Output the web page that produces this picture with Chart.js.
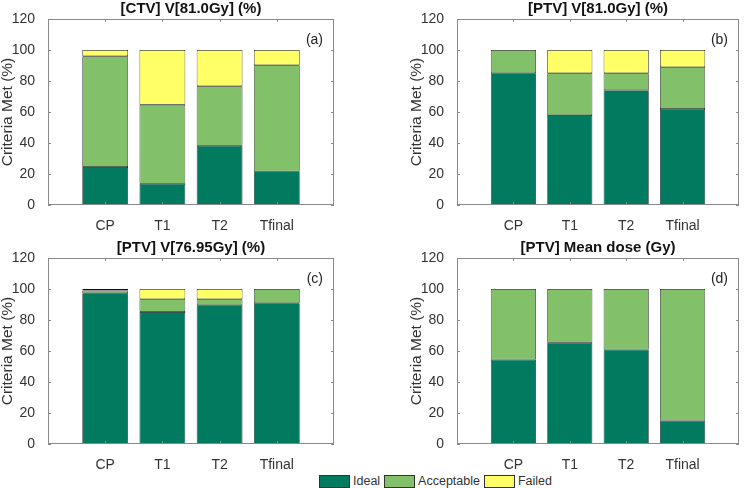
<!DOCTYPE html>
<html>
<head>
<meta charset="utf-8">
<script src="https://cdn.jsdelivr.net/npm/chart.js@4.4.0/dist/chart.umd.min.js"></script>
<style>
  body { margin: 0; background: #fff; }
  #wrap { position: relative; width: 744px; height: 488px; overflow: hidden; font-family: "Liberation Sans", Arial, sans-serif; }
  canvas { position: absolute; }
  #legend { position: absolute; left: 319px; top: 474px; display: flex; align-items: center; font-size: 12.5px; color: #333; white-space: nowrap; }
  #legend .sw { width: 29px; height: 11px; border: 1px solid #333; margin-right: 3px; }
  #legend .lb { margin-right: 4px; }
</style>
</head>
<body>
<div id="wrap">
  <canvas id="chartA" width="372" height="232" style="left:0;top:0"></canvas>
  <canvas id="chartB" width="335" height="232" style="left:409px;top:0"></canvas>
  <canvas id="chartC" width="372" height="232" style="left:0;top:239px"></canvas>
  <canvas id="chartD" width="335" height="232" style="left:409px;top:239px"></canvas>
  <div id="legend"></div>
</div>
<script>
const categories = ['CP', 'T1', 'T2', 'Tfinal'];
const seriesNames = ['Ideal', 'Acceptable', 'Failed'];
const yTickValues = [0, 20, 40, 60, 80, 100, 120];

// (a) [CTV] V[81.0Gy]
const ctvV81Ideal = [24.5, 13.7, 38.2, 21.7];
const ctvV81Acceptable = [71.5, 51.0, 38.4, 68.5];
const ctvV81Failed = [4.0, 35.3, 23.4, 9.8];

// (b) [PTV] V[81.0Gy]
const ptvV81Ideal = [85.0, 58.0, 74.1, 62.0];
const ptvV81Acceptable = [15.0, 27.0, 10.9, 26.9];
const ptvV81Failed = [0, 15.0, 15.0, 11.1];

// (c) [PTV] V[76.95Gy]
const ptvV7695Ideal = [97.3, 85.2, 89.5, 90.8];
const ptvV7695Acceptable = [1.8, 8.2, 3.9, 9.2];
const ptvV7695Failed = [0.9, 6.6, 6.6, 0];

// (d) [PTV] Mean dose
const ptvMeanIdeal = [54.5, 65.3, 61.0, 15.1];
const ptvMeanAcceptable = [45.5, 34.7, 39.0, 84.9];
const ptvMeanFailed = [0, 0, 0, 0];

const colors = ['#007b60', '#82c06a', '#ffff66'];
const edgeColor = '#111111';
const textColor = '#333333';
const boxColor = '#8a8a8a';
const fontFamily = '"Liberation Sans", Arial, sans-serif';

// padded labels so the x range runs 0..5 with bars at 1..4
const xLabels = ['', ...categories, ''];

// draws the box, inward ticks and the panel tag
const matlabAxes = {
    id: 'matlabAxes',
    afterDatasetsDraw(chart, args, opts) {
        const { ctx, chartArea: a, scales: { x, y } } = chart;
        ctx.save();
        ctx.strokeStyle = boxColor;
        ctx.lineWidth = 1;
        ctx.strokeRect(a.left + 0.5, a.top + 0.5, a.right - a.left - 1, a.bottom - a.top - 1);
        ctx.beginPath();
        yTickValues.forEach(v => {
            const py = Math.round(y.getPixelForValue(v)) + 0.5;
            ctx.moveTo(a.left, py); ctx.lineTo(a.left + 3, py);
            ctx.moveTo(a.right, py); ctx.lineTo(a.right - 3, py);
        });
        xLabels.forEach((lab, i) => {
            if (!lab) return;
            const px = Math.round(x.getPixelForValue(i)) + 0.5;
            ctx.moveTo(px, a.top); ctx.lineTo(px, a.top + 3);
            ctx.moveTo(px, a.bottom); ctx.lineTo(px, a.bottom - 3);
        });
        ctx.stroke();
        ctx.fillStyle = '#222';
        ctx.font = '14px ' + fontFamily;
        ctx.textAlign = 'right';
        ctx.textBaseline = 'middle';
        ctx.fillText(opts.tag, a.right - 11, a.top + 21);
        ctx.restore();
    }
};

function makePanel(canvasId, title, tag, ideal, acceptable, failed) {
    const series = [ideal, acceptable, failed];
    new Chart(document.getElementById(canvasId), {
        type: 'bar',
        data: {
            labels: xLabels,
            datasets: series.map((vals, k) => ({
                label: seriesNames[k],
                data: [null, ...vals, null],
                backgroundColor: colors[k],
                borderColor: edgeColor,
                borderWidth: 0.7,
                borderSkipped: false,
                barPercentage: 0.8,
                categoryPercentage: 1
            }))
        },
        options: {
            responsive: false,
            animation: false,
            layout: { padding: { left: 0, right: canvasId === 'chartA' || canvasId === 'chartC' ? 38 : 1, top: 0, bottom: 0 } },
            scales: {
                x: {
                    stacked: true,
                    offset: false,
                    grid: { display: false },
                    border: { display: false },
                    ticks: { color: textColor, font: { family: fontFamily, size: 14 }, padding: 5, maxRotation: 0, autoSkip: false },
                    afterFit: scale => { scale.height = 27; }
                },
                y: {
                    stacked: true,
                    min: 0,
                    max: 120,
                    grid: { display: false },
                    border: { display: false },
                    ticks: { stepSize: 20, color: textColor, font: { family: fontFamily, size: 14 }, padding: 5 },
                    title: {
                        display: true,
                        text: 'Criteria Met (%)',
                        color: textColor,
                        font: { family: fontFamily, size: 15.5, lineHeight: 1 },
                        padding: 0
                    },
                    afterFit: scale => { scale.width = 48; }
                }
            },
            plugins: {
                legend: { display: false },
                tooltip: { enabled: false },
                title: {
                    display: true,
                    fullSize: false,
                    text: title,
                    color: '#111',
                    font: { family: fontFamily, size: 15, weight: 'bold', lineHeight: 1.2 },
                    padding: { top: 0, bottom: 1 }
                },
                matlabAxes: { tag: tag }
            }
        },
        plugins: [matlabAxes]
    });
}

makePanel('chartA', '[CTV] V[81.0Gy] (%)', '(a)', ctvV81Ideal, ctvV81Acceptable, ctvV81Failed);
makePanel('chartB', '[PTV] V[81.0Gy] (%)', '(b)', ptvV81Ideal, ptvV81Acceptable, ptvV81Failed);
makePanel('chartC', '[PTV] V[76.95Gy] (%)', '(c)', ptvV7695Ideal, ptvV7695Acceptable, ptvV7695Failed);
makePanel('chartD', '[PTV] Mean dose (Gy)', '(d)', ptvMeanIdeal, ptvMeanAcceptable, ptvMeanFailed);

// shared legend
const legend = document.getElementById('legend');
seriesNames.forEach((name, k) => {
    const sw = document.createElement('span');
    sw.className = 'sw';
    sw.style.background = colors[k];
    const lb = document.createElement('span');
    lb.className = 'lb';
    lb.textContent = name;
    legend.appendChild(sw);
    legend.appendChild(lb);
});
</script>
</body>
</html>
